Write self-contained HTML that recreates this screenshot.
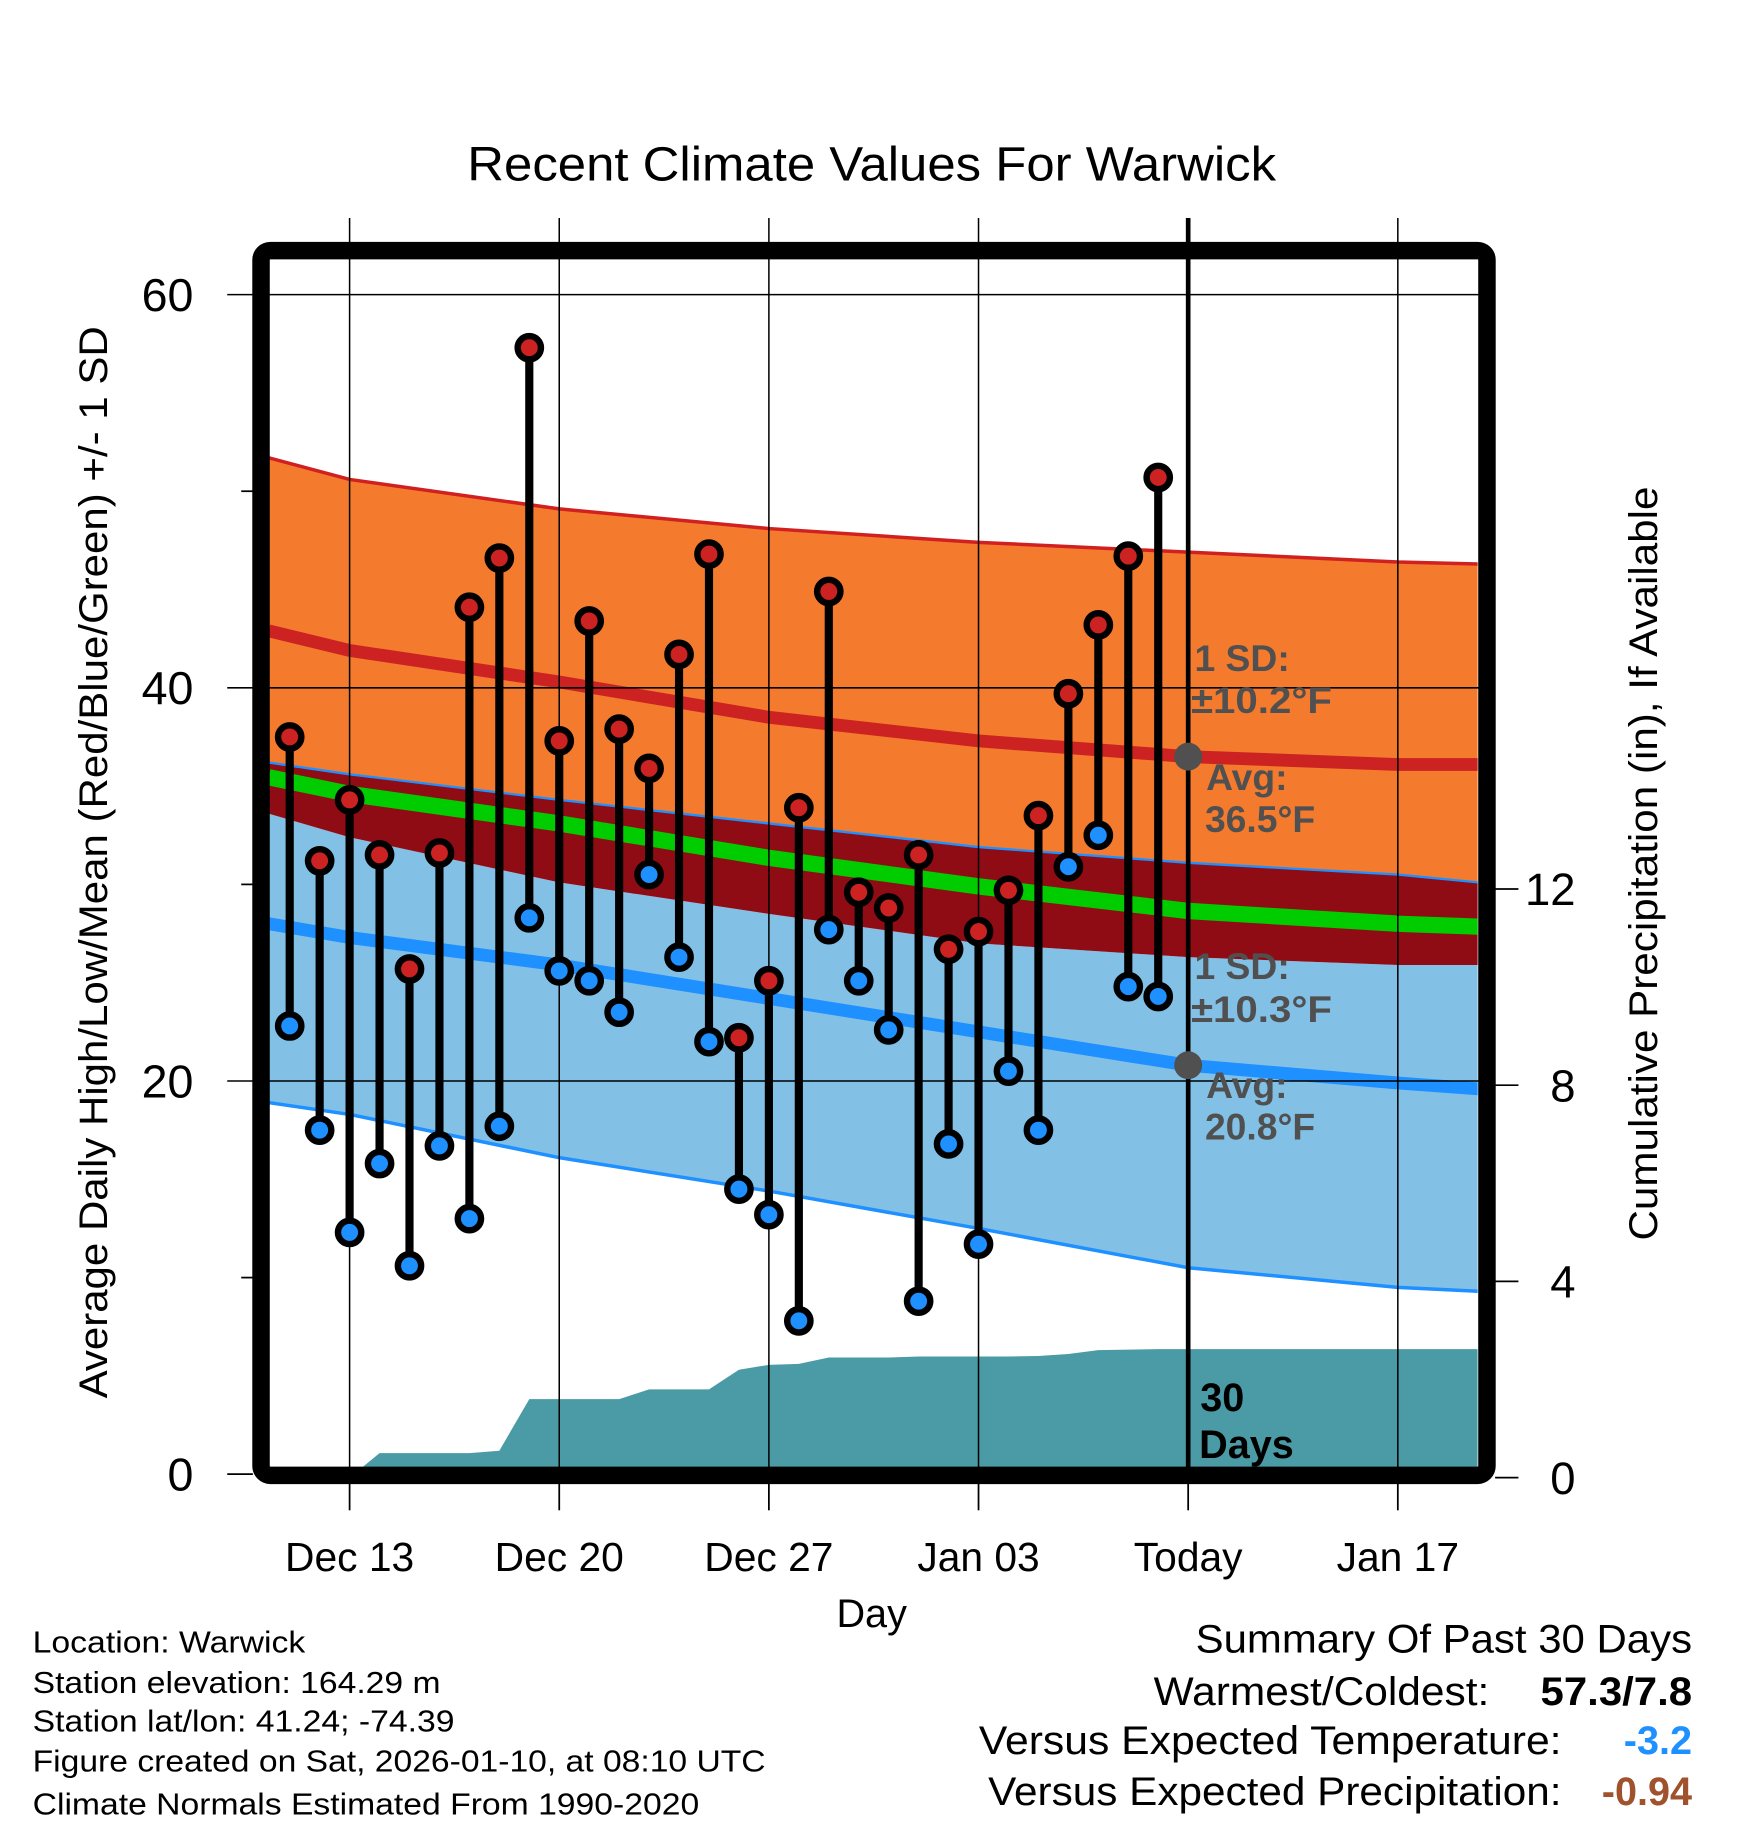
<!DOCTYPE html>
<html><head><meta charset="utf-8"><style>
html,body{margin:0;padding:0;background:#fff;}
svg{display:block;font-family:"Liberation Sans",Arial,sans-serif;}
</style></head><body>
<svg id="chart" width="1748" height="1828" viewBox="0 0 1500 1568.6" xmlns="http://www.w3.org/2000/svg">
<rect x="0" y="0" width="1500" height="1568.6" fill="#fff"/>
<text x="748" y="155" font-size="41" text-anchor="middle" textLength="694" lengthAdjust="spacingAndGlyphs">Recent Climate Values For Warwick</text>
<defs><clipPath id="plotclip"><rect x="231" y="222" width="1037" height="1038"/></clipPath></defs>
<g id="bands" clip-path="url(#plotclip)"></g>
<g id="grid"></g>
<g id="marks"></g>
<rect x="224" y="215" width="1052" height="1051" fill="none" stroke="#000" stroke-width="15" rx="8"/>
<g id="axes"></g>
<g id="annot" font-weight="bold" fill="#505050" font-size="32">
<text x="1025" y="576">1 SD:</text>
<text x="1022" y="612" textLength="121" lengthAdjust="spacingAndGlyphs">±10.2°F</text>
<text x="1035" y="678">Avg:</text>
<text x="1034" y="714">36.5°F</text>
<text x="1025" y="840">1 SD:</text>
<text x="1022" y="877" textLength="121" lengthAdjust="spacingAndGlyphs">±10.3°F</text>
<text x="1035" y="942">Avg:</text>
<text x="1034" y="978">20.8°F</text>
<text x="1030" y="1211" fill="#000" font-size="34">30</text>
<text x="1029" y="1251" fill="#000" font-size="34">Days</text>
</g>
<text transform="translate(92,740) rotate(-90)" font-size="34" text-anchor="middle" textLength="920" lengthAdjust="spacingAndGlyphs">Average Daily High/Low/Mean (Red/Blue/Green) +/- 1 SD</text>
<text transform="translate(1422,741) rotate(-90)" font-size="34" text-anchor="middle" textLength="647" lengthAdjust="spacingAndGlyphs">Cumulative Precipitation (in), If Available</text>
<text x="748" y="1396" font-size="34" text-anchor="middle">Day</text>
<g font-size="26">
<text x="28" y="1418" textLength="234" lengthAdjust="spacingAndGlyphs">Location: Warwick</text>
<text x="28" y="1453" textLength="350" lengthAdjust="spacingAndGlyphs">Station elevation: 164.29 m</text>
<text x="28" y="1486" textLength="362" lengthAdjust="spacingAndGlyphs">Station lat/lon: 41.24; -74.39</text>
<text x="28" y="1520" textLength="629" lengthAdjust="spacingAndGlyphs">Figure created on Sat, 2026-01-10, at 08:10 UTC</text>
<text x="28" y="1557" textLength="572" lengthAdjust="spacingAndGlyphs">Climate Normals Estimated From 1990-2020</text>
</g>
<g font-size="34">
<text x="1452" y="1418" text-anchor="end" textLength="426" lengthAdjust="spacingAndGlyphs">Summary Of Past 30 Days</text>
<text x="1278" y="1463" text-anchor="end" textLength="288" lengthAdjust="spacingAndGlyphs">Warmest/Coldest:</text>
<text x="1452" y="1463" text-anchor="end" font-weight="bold" textLength="130" lengthAdjust="spacingAndGlyphs">57.3/7.8</text>
<text x="1340" y="1505" text-anchor="end" textLength="500" lengthAdjust="spacingAndGlyphs">Versus Expected Temperature:</text>
<text x="1452" y="1505" text-anchor="end" font-weight="bold" fill="#1e90ff">-3.2</text>
<text x="1340" y="1549" text-anchor="end" textLength="492" lengthAdjust="spacingAndGlyphs">Versus Expected Precipitation:</text>
<text x="1452" y="1549" text-anchor="end" font-weight="bold" fill="#a0522d">-0.94</text>
</g>
</svg>
<script>
// day index: 0 = Dec 13
const days = [-2,-1,0,1,2,3,4,5,6,7,8,9,10,11,12,13,14,15,16,17,18,19,20,21,22,23,24,25,26,27];
const highs = [37.5,31.2,34.3,31.5,25.7,31.6,44.1,46.6,57.3,37.3,43.4,37.9,35.9,41.7,46.8,22.2,25.1,33.9,44.9,29.6,28.8,31.5,26.7,27.6,29.7,33.5,39.7,43.2,46.7,50.7];
const lows = [22.8,17.5,12.3,15.8,10.6,16.7,13.0,17.7,28.3,25.6,25.1,23.5,30.5,26.3,22.0,14.5,13.2,7.8,27.7,25.1,22.6,8.8,16.8,11.7,20.5,17.5,30.9,32.5,24.8,24.3];
const precip = [0,0,0,0.5,0.5,0.5,0.5,0.55,1.6,1.6,1.6,1.6,1.8,1.8,1.8,2.2,2.3,2.32,2.45,2.45,2.45,2.47,2.47,2.47,2.47,2.48,2.52,2.6,2.61,2.62];
const normDays = [-2.7,0,7,14,21,28,35,37.7];
const hiUpper = [51.7,50.6,49.1,48.1,47.4,46.9,46.4,46.3];
const hiAvg = [42.9,41.9,40.3,38.5,37.3,36.5,36.1,36.1];
const hiLower = [33.6,32.4,30.1,28.5,27.0,26.3,25.9,25.9];
const loUpper = [36.2,35.6,34.3,33.1,31.9,31.1,30.5,30.1];
const loAvg = [28.0,27.3,25.9,24.2,22.5,20.8,19.9,19.6];
const loLower = [18.9,18.3,16.1,14.4,12.5,10.5,9.5,9.3];
const tickDays = [0,7,14,21,28,35];
const tickLabels = ["Dec 13","Dec 20","Dec 27","Jan 03","Today","Jan 17"];
const yTicks = [0,20,40,60];
const yMinor = [10,30,50];
const y2Ticks = [0,4,8,12];

const NS="http://www.w3.org/2000/svg";
const X = d => 300 + 25.7*d;
const Y = t => 1265 - 16.87*t;
const Y2 = p => 1268 - 42.1*p;
function el(tag, attrs, parent){const e=document.createElementNS(NS,tag);for(const k in attrs)e.setAttribute(k,attrs[k]);parent.appendChild(e);return e;}
const bands=document.getElementById('bands'), grid=document.getElementById('grid'), marks=document.getElementById('marks'), axes=document.getElementById('axes');
const pts = arr => normDays.map((d,i)=>X(d)+','+Y(arr[i]));
const mean = hiAvg.map((h,i)=>(h+loAvg[i])/2);

let e;
e=el('polygon',{points:pts(hiUpper).concat(pts(loUpper).reverse()).join(' '),fill:'#f47a2e'},bands);


e=el('polygon',{points:pts(hiLower).concat(pts(loLower).reverse()).join(' '),fill:'#82c0e6'},bands);


e=el('polygon',{points:pts(loUpper).concat(pts(hiLower).reverse()).join(' '),fill:'#8f0c14'},bands);


const pp=[X(days[0])+','+Y2(0)].concat(days.map((d,i)=>X(d)+','+Y2(precip[i])));
pp.push('1268,'+Y2(precip[precip.length-1]));pp.push('1268,'+Y2(0));
e=el('polygon',{points:pp.join(' '),fill:'#4a9ba5'},bands);


e=el('polyline',{points:pts(hiUpper).join(' '),fill:'none',stroke:'#d02020','stroke-width':3},bands);


e=el('polyline',{points:pts(hiAvg).join(' '),fill:'none',stroke:'#cc2222','stroke-width':11},bands);


e=el('polyline',{points:pts(loUpper).join(' '),fill:'none',stroke:'#1e90ff','stroke-width':2},bands);


e=el('polyline',{points:pts(mean).join(' '),fill:'none',stroke:'#00cc00','stroke-width':14},bands);


e=el('polyline',{points:pts(loAvg).join(' '),fill:'none',stroke:'#1e90ff','stroke-width':11},bands);


e=el('polyline',{points:pts(loLower).join(' '),fill:'none',stroke:'#1e90ff','stroke-width':3},bands);



tickDays.forEach((d,i)=>{
  e=el('line',{x1:X(d),x2:X(d),y1:187,y2:1265,stroke:'#000','stroke-width':1.3},grid);
  
  
  e=el('line',{x1:X(d),x2:X(d),y1:1272,y2:1296,stroke:'#000','stroke-width':1.5},axes);
  
  
  e=el('text',{x:X(d),y:1348,'font-size':35,'text-anchor':'middle'},axes);
  e.textContent=tickLabels[i];
  
  
});
yTicks.forEach(t=>{
  if(t>0){
    e=el('line',{x1:195,x2:1283,y1:Y(t),y2:Y(t),stroke:'#000','stroke-width':1.3},grid);
    
    
  } else {
    e=el('line',{x1:195,x2:217,y1:Y(t),y2:Y(t),stroke:'#000','stroke-width':1.5},axes);
    
    
  }
  e=el('text',{x:166,y:Y(t)+14,'font-size':40,'text-anchor':'end'},axes);
  e.textContent=t;
  
  
});
yMinor.forEach(t=>{
  e=el('line',{x1:207,x2:217,y1:Y(t),y2:Y(t),stroke:'#000','stroke-width':1.5},axes);
  
  
});
y2Ticks.forEach(p=>{
  e=el('line',{x1:1283,x2:1303,y1:Y2(p),y2:Y2(p),stroke:'#000','stroke-width':1.5},axes);
  
  
  e=el('text',{x:1352,y:Y2(p)+14,'font-size':39,'text-anchor':'end'},axes);
  e.textContent=p;
  
  
});
e=el('line',{x1:X(28),x2:X(28),y1:187,y2:1262,stroke:'#000','stroke-width':4},marks);


days.forEach((d,i)=>{
  e=el('line',{x1:X(d),x2:X(d),y1:Y(highs[i]),y2:Y(lows[i]),stroke:'#000','stroke-width':7},marks);
  
  
});
days.forEach((d,i)=>{
  e=el('circle',{cx:X(d),cy:Y(highs[i]),r:10,fill:'#cc2222',stroke:'#000','stroke-width':5.5},marks);
  
  
  e=el('circle',{cx:X(d),cy:Y(lows[i]),r:10,fill:'#1e90ff',stroke:'#000','stroke-width':5.5},marks);
  
  
});
e=el('circle',{cx:X(28),cy:Y(hiAvg[5]),r:12,fill:'#505050'},marks);


e=el('circle',{cx:X(28),cy:Y(loAvg[5]),r:12,fill:'#505050'},marks);


</script>
</body></html>
